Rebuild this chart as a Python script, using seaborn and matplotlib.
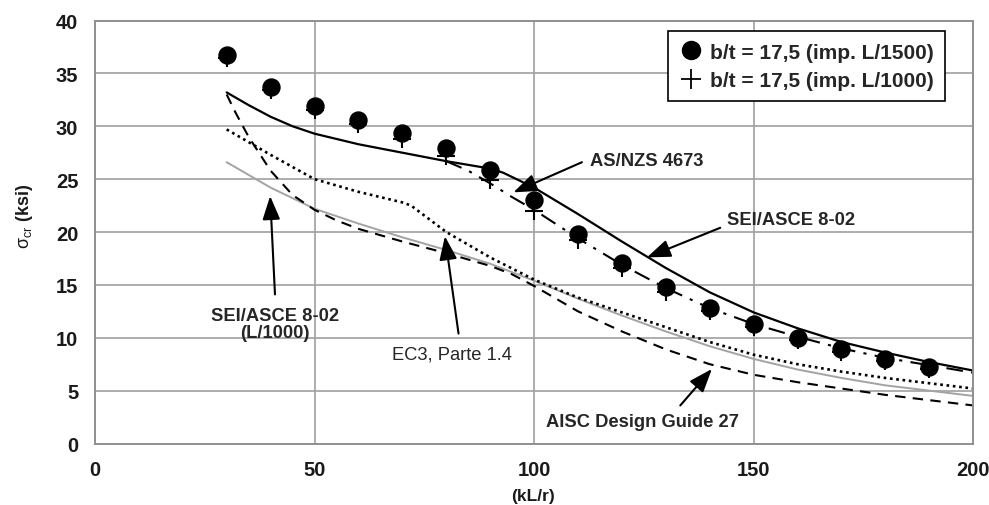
import matplotlib
matplotlib.use("Agg")
import matplotlib.pyplot as plt
from matplotlib.lines import Line2D
import seaborn as sns

# ---- data ----
x_pts = [30, 40, 50, 60, 70, 80, 90, 100, 110, 120, 130, 140, 150, 160, 170, 180, 190]
y_l1500 = [36.7, 33.7, 31.9, 30.6, 29.4, 27.9, 25.9, 23.0, 19.8, 17.1, 14.8, 12.8, 11.3, 10.0, 8.9, 8.0, 7.2]
y_l1000 = [36.5, 33.4, 31.5, 30.2, 28.8, 27.2, 24.9, 22.0, 19.2, 16.6, 14.3, 12.5, 11.0, 9.8, 8.7, 7.8, 7.0]

x_sei = [30, 35, 40, 45, 50, 60, 70, 80, 90, 93, 100, 110, 120, 130, 140, 150, 160, 170, 180, 190, 200]
y_sei = [33.2, 32.0, 30.9, 30.0, 29.3, 28.3, 27.5, 26.7, 26.0, 25.6, 24.2, 21.7, 19.1, 16.6, 14.3, 12.4, 10.9, 9.6, 8.6, 7.7, 6.9]

x_asnzs = [80, 85, 90, 95, 100, 110, 120, 130, 140, 150, 160, 170, 180, 190, 200]
y_asnzs = [26.7, 25.8, 24.6, 23.3, 22.1, 19.4, 16.9, 14.7, 12.8, 11.3, 10.1, 9.0, 8.1, 7.4, 6.7]

x_sei1000 = [30, 40, 50, 60, 70, 80, 90, 100, 110, 120, 130, 140, 150, 160, 170, 180, 190, 200]
y_sei1000 = [26.6, 24.2, 22.2, 20.8, 19.5, 18.3, 17.0, 15.4, 13.7, 12.1, 10.6, 9.2, 8.0, 7.0, 6.2, 5.5, 5.0, 4.5]

x_ec3 = [30, 40, 50, 60, 70, 72, 80, 90, 100, 110, 120, 130, 140, 150, 160, 170, 180, 190, 200]
y_ec3 = [29.7, 27.3, 25.0, 23.8, 22.8, 22.5, 20.0, 17.6, 15.5, 13.8, 12.4, 11.0, 9.6, 8.4, 7.5, 6.8, 6.2, 5.7, 5.2]

x_aisc = [30, 32, 35, 40, 45, 50, 55, 60, 70, 80, 90, 95, 100, 110, 120, 130, 140, 150, 160, 170, 180, 190, 200]
y_aisc = [33.0, 31.3, 29.0, 25.8, 23.5, 22.1, 21.1, 20.3, 19.1, 18.0, 16.8, 16.0, 14.9, 12.5, 10.6, 8.9, 7.5, 6.5, 5.8, 5.2, 4.6, 4.1, 3.6]

legend_labels = ["b/t = 17,5 (imp. L/1500)", "b/t = 17,5 (imp. L/1000)"]
x_ticks = [0, 50, 100, 150, 200]
y_ticks = [0, 5, 10, 15, 20, 25, 30, 35, 40]

# ---- style ----
sns.set_theme(style="whitegrid")
plt.rcParams['font.family'] = ['Liberation Sans', 'DejaVu Sans']
plt.rcParams['mathtext.fontset'] = 'custom'
plt.rcParams['mathtext.rm'] = 'Liberation Sans'
plt.rcParams['mathtext.it'] = 'Liberation Sans'

fig = plt.figure(figsize=(9.89, 5.06), dpi=100)
ax = fig.add_axes([0.096, 0.1215, 0.888, 0.836])
ax.set_facecolor('white')

grid_c = '#a0a0a0'
ax.grid(True, color=grid_c, linewidth=1.2)
for s in ax.spines.values():
    s.set_color('#909090')
    s.set_linewidth(1.4)

# lines
sns.lineplot(x=x_sei1000, y=y_sei1000, ax=ax, color='#a3a3a3', linewidth=1.4, sort=False)
sns.lineplot(x=x_ec3, y=y_ec3, ax=ax, color='black', linewidth=1.9, linestyle=(0, (1, 1.4)), sort=False)
sns.lineplot(x=x_aisc, y=y_aisc, ax=ax, color='black', linewidth=1.5, linestyle=(0, (5, 3.5)), sort=False)
sns.lineplot(x=x_asnzs, y=y_asnzs, ax=ax, color='black', linewidth=1.5, linestyle=(0, (8, 4, 1.5, 4)), sort=False)
sns.lineplot(x=x_sei, y=y_sei, ax=ax, color='black', linewidth=1.6, sort=False)

# points
sns.scatterplot(x=x_pts, y=y_l1000, ax=ax, marker='+', s=150, color='black', linewidth=1.5, zorder=5)
sns.scatterplot(x=x_pts, y=y_l1500, ax=ax, marker='o', s=150, color='black', edgecolor='black', zorder=6)

ax.set_xlim(0, 200)
ax.set_ylim(0, 40)
ax.set_xticks(x_ticks)
ax.set_yticks(y_ticks)
ax.tick_params(axis='both', length=0, labelsize=14.5)
ax.tick_params(axis='x', pad=12)
ax.tick_params(axis='y', pad=12)
for lab in ax.get_xticklabels() + ax.get_yticklabels():
    lab.set_fontweight('bold')
    lab.set_color('#1a1a1a')

ax.set_xlabel('(kL/r)', fontsize=12.5, fontweight='bold', color='#1a1a1a')
ax.xaxis.set_label_coords(0.499, -0.105)
ax.set_ylabel(r'$\sigma_{\mathrm{cr}}$ (ksi)', fontsize=13, fontweight='bold', color='#1a1a1a')
ax.yaxis.set_label_coords(-0.068, 0.54)

# legend
handles = [
    Line2D([], [], marker='o', linestyle='none', color='black', markersize=13),
    Line2D([], [], marker='+', linestyle='none', color='black', markersize=15, markeredgewidth=1.3),
]
leg = ax.legend(handles, legend_labels, loc='upper right', bbox_to_anchor=(0.968, 0.975),
                frameon=True, fancybox=False, edgecolor='black', framealpha=1,
                prop={'weight': 'bold', 'size': 15}, handletextpad=0.35,
                borderpad=0.55, labelspacing=0.45, handlelength=1.1, borderaxespad=0)
leg.get_frame().set_linewidth(1.2)

arrow = dict(arrowstyle='-|>,head_length=0.8,head_width=0.3', color='black', lw=1.5,
             mutation_scale=18, shrinkA=0, shrinkB=0)
fs_ann = 13.2

ax.text(112.8, 26.8, 'AS/NZS 4673', fontsize=fs_ann, fontweight='bold', ha='left', va='center')
ax.annotate('', xy=(95.3, 23.75), xytext=(110.9, 26.6), arrowprops=arrow)
ax.text(143.9, 21.2, 'SEI/ASCE 8-02', fontsize=fs_ann, fontweight='bold', ha='left', va='center')
ax.annotate('', xy=(125.7, 17.6), xytext=(142.4, 20.4), arrowprops=arrow)
ax.text(41.0, 11.3, 'SEI/ASCE 8-02\n(L/1000)', fontsize=fs_ann, fontweight='bold',
        ha='center', va='center', linespacing=1.05)
ax.annotate('', xy=(39.9, 23.4), xytext=(41.0, 14.1), arrowprops=arrow)
ax.text(81.4, 8.5, 'EC3, Parte 1.4', fontsize=fs_ann, ha='center', va='center')
ax.annotate('', xy=(79.7, 19.6), xytext=(82.8, 10.4), arrowprops=arrow)
ax.text(124.7, 2.05, 'AISC Design Guide 27', fontsize=fs_ann, fontweight='bold', ha='center', va='center')
ax.annotate('', xy=(140.5, 7.05), xytext=(133.3, 3.6), arrowprops=arrow)

fig.savefig('out.png', dpi=100)
